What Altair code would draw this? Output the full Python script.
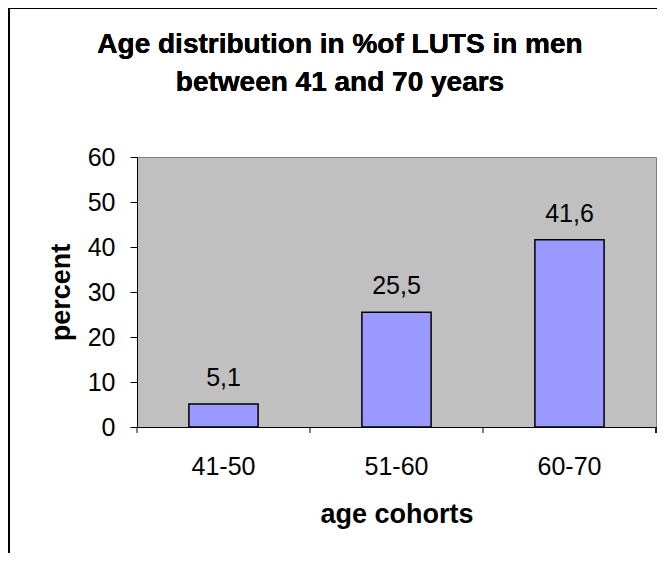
import altair as alt
import pandas as pd

categories = ["41-50", "51-60", "60-70"]
values = [5.1, 25.5, 41.6]
y_ticks = [0, 10, 20, 30, 40, 50, 60]
title_line1 = "Age distribution in %of LUTS in men"
title_line2 = "between 41 and 70 years"

df = pd.DataFrame({"cohort": categories, "percent": values})

W, H = 519, 270
FONT = "Liberation Sans"

x_enc = alt.X(
    "cohort:N",
    sort=categories,
    title="age cohorts",
    scale=alt.Scale(paddingInner=0, paddingOuter=0),
    axis=alt.Axis(
        labelAngle=0, ticks=False, tickSize=0, labelPadding=27,
        labelFontSize=25, labelFont=FONT, labelColor="black",
        titleFontSize=27, titleFont=FONT, titleFontWeight="bold",
        titleColor="black", titlePadding=22,
        domainColor="black", domainWidth=1,
    ),
)

y_enc = alt.Y(
    "percent:Q",
    title="percent",
    scale=alt.Scale(domain=[0, 60], nice=False),
    axis=alt.Axis(
        values=y_ticks, grid=False, tickSize=7, tickColor="black",
        labelPadding=15, labelFontSize=25, labelFont=FONT, labelColor="black",
        titleFontSize=27, titleFont=FONT, titleFontWeight="bold",
        titleColor="black", titlePadding=12,
        domainColor="black", domainWidth=1,
    ),
)

bars = alt.Chart(df).mark_bar(
    color="#9999FF", stroke="black", strokeWidth=1.5,
    width=alt.RelativeBandSize(0.4),
).encode(x=x_enc, y=y_enc)

labels = alt.Chart(df).transform_calculate(
    lbl="replace(format(datum.percent, '.1f'), '.', ',')"
).mark_text(
    fontSize=25, font=FONT, color="black", dy=-18, baseline="alphabetic"
).encode(x=alt.X("cohort:N", sort=categories), y="percent:Q", text="lbl:N")

ticks = alt.Chart(df).mark_rule(color="black", strokeWidth=1).encode(
    x=alt.X("cohort:N", sort=categories, bandPosition=0),
    y=alt.value(H), y2=alt.value(H + 6),
)
last_tick = alt.Chart(df).mark_rule(color="black", strokeWidth=1).encode(
    x=alt.value(W), y=alt.value(H), y2=alt.value(H + 6),
)
frame_top = alt.Chart(df).mark_rule(color="black", strokeWidth=2).encode(
    x=alt.value(-128), x2=alt.value(W + 2), y=alt.value(-149),
)
frame_left = alt.Chart(df).mark_rule(color="black", strokeWidth=2).encode(
    x=alt.value(-128), y=alt.value(-149), y2=alt.value(H + 130),
)
t1 = alt.Chart(df).mark_text(
    text=title_line1, fontSize=28, font=FONT, fontWeight="bold", color="black",
    align="center", baseline="alphabetic",
).encode(x=alt.value(203), y=alt.value(-104))
t2 = alt.Chart(df).mark_text(
    text=title_line2, fontSize=28, font=FONT, fontWeight="bold", color="black",
    align="center", baseline="alphabetic",
).encode(x=alt.value(203), y=alt.value(-66))

chart = alt.layer(bars, labels, ticks, last_tick, frame_top, frame_left, t1, t2).properties(
    width=W, height=H,
    autosize=alt.AutoSizeParams(type="none"),
    padding={"left": 129, "top": 149, "right": 1, "bottom": 126},
    background="white",
).configure_view(
    fill="#C0C0C0", stroke="#808080", strokeWidth=1,
)

chart.save("out.html", embed_options={"renderer": "svg", "actions": False})
